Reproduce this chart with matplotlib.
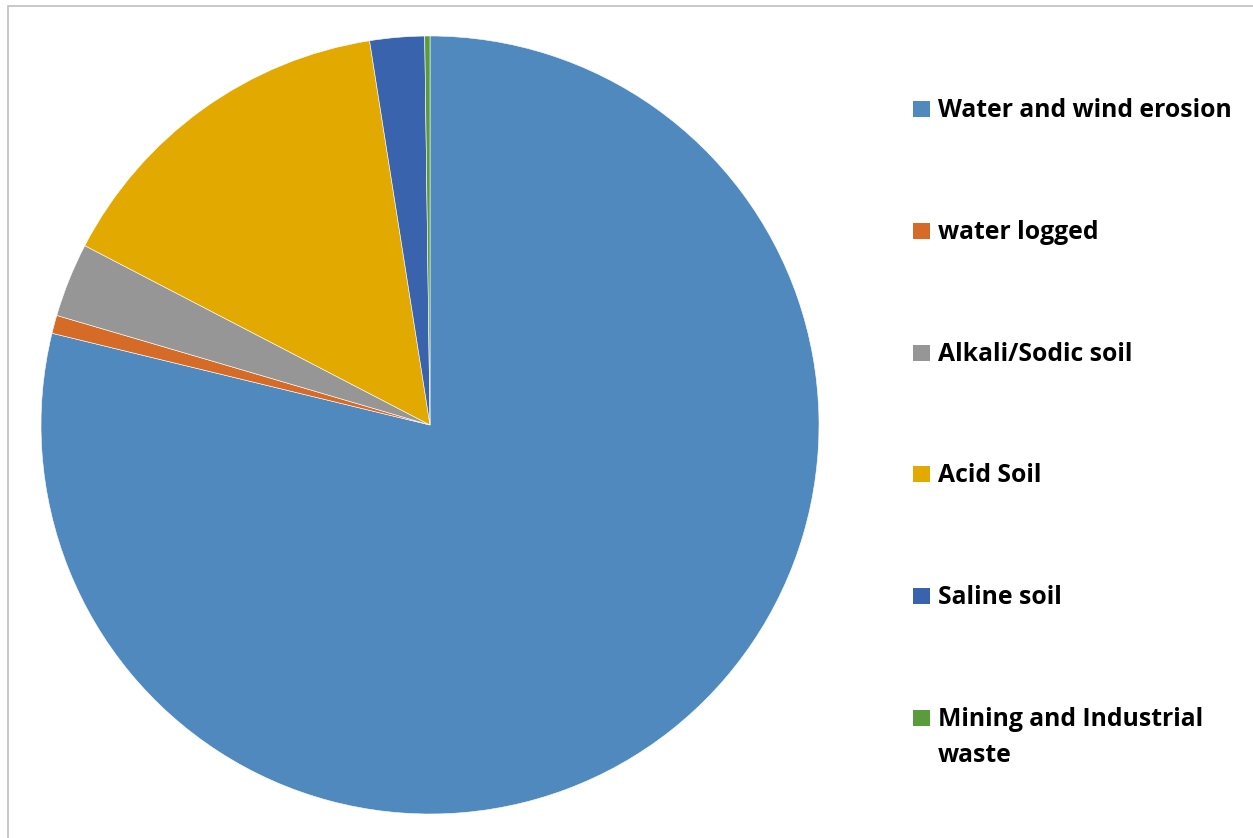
import matplotlib
matplotlib.use('Agg')
import matplotlib.pyplot as plt
from matplotlib.patches import Rectangle

# degraded land categories (Mha)
labels = ['Water and wind erosion', 'water logged', 'Alkali/Sodic soil',
          'Acid Soil', 'Saline soil', 'Mining and Industrial\nwaste']
values = [94.87, 0.91, 3.71, 17.93, 2.73, 0.26]
colors = ['#4F89BD', '#D66B27', '#969696', '#E2A900', '#3A63AD', '#5A9B3C']

plt.rcParams['font.family'] = ['Open Sans', 'DejaVu Sans']

W, H = 1253, 838
fig = plt.figure(figsize=(W / 100, H / 100), dpi=100)
ax = fig.add_axes([41 / W, 24 / H, 778 / W, 778 / H])
wedges, _ = ax.pie(values, colors=colors, startangle=90, counterclock=False,
                   radius=1, wedgeprops={'edgecolor': 'white', 'linewidth': 0.4})
ax.set_xlim(-1, 1)
ax.set_ylim(-1, 1)
ax.set_aspect('equal')
ax.axis('off')

# chart area border (cut off at right/bottom)
fig.patches.append(Rectangle((8 / W, -0.1), 1.1, 1.1 - 6 / H,
                             transform=fig.transFigure, fill=False,
                             edgecolor='#BFBFBF', linewidth=1.2))

# legend, drawn by hand so the marker sits on the first text line
top = 117      # baseline of first entry, px from top
step = 121.8   # entry spacing
for i, (lab, col) in enumerate(zip(labels, colors)):
    base = top + step * i
    fig.patches.append(Rectangle((913 / W, 1 - base / H), 17 / W, 16 / H,
                                 transform=fig.transFigure, facecolor=col,
                                 edgecolor='none'))
    for k, line in enumerate(lab.split('\n')):
        fig.text(938 / W, 1 - (base + 36 * k) / H, line, fontsize=17.8,
                 fontweight='bold', va='baseline', ha='left')

fig.savefig('out.png', dpi=100)
